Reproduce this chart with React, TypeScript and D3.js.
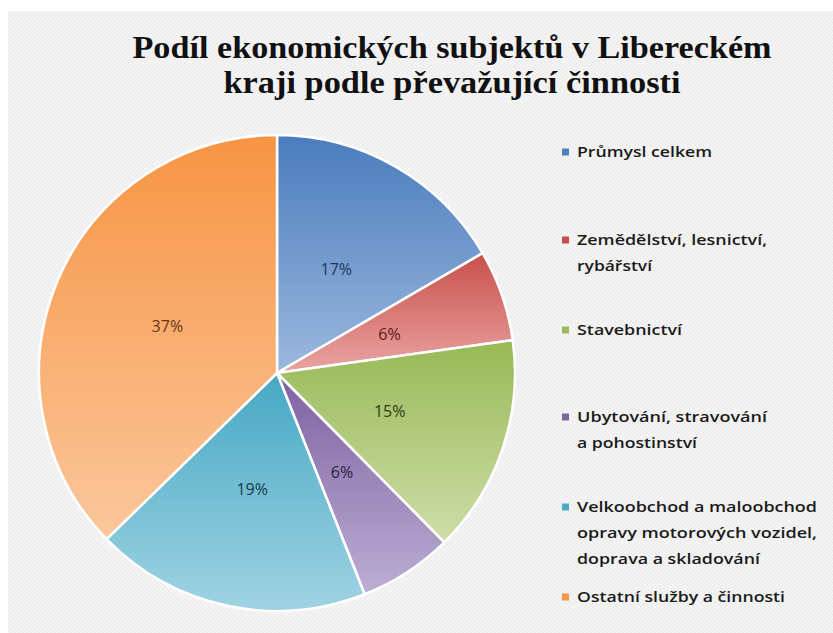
import React from "react";
import * as d3 from "d3";

const titleLines = ["Podíl ekonomických subjektů v Libereckém", "kraji podle převažující činnosti"];
const categories = [
  "Průmysl celkem",
  "Zemědělství, lesnictví, rybářství",
  "Stavebnictví",
  "Ubytování, stravování a pohostinství",
  "Velkoobchod a maloobchod opravy motorových vozidel, doprava a skladování",
  "Ostatní služby a činnosti",
];
const legendLines = [
  ["Průmysl celkem"],
  ["Zemědělství, lesnictví,", "rybářství"],
  ["Stavebnictví"],
  ["Ubytování, stravování", "a pohostinství"],
  ["Velkoobchod a maloobchod", "opravy motorových vozidel,", "doprava a skladování"],
  ["Ostatní služby a činnosti"],
];
const values = [16.6, 6.2, 14.8, 6.4, 18.7, 37.3];
const topColors = ["#4a7cbd", "#c8504b", "#97b955", "#7e61a1", "#45a8c4", "#f79443"];
const bottomColors = ["#9cb8de", "#eaa4a3", "#cfdda9", "#bcaed4", "#a0d3e3", "#fbc79c"];
const labelColors = ["#1d3561", "#5c1c1a", "#2f3d14", "#2e2143", "#163b49", "#6a3410"];
const legendColors = ["#4f81bd", "#c0504d", "#9bbb59", "#8064a2", "#4bacc6", "#f79646"];

const W = 833;
const H = 633;
const cx = 277;
const cy = 373;
const R = 238;

const legendTop = [152, 240, 330, 417, 507, 597];
const legendWidths = [
  [135],
  [190, 75],
  [105],
  [190, 120],
  [240, 240, 183],
  [208],
];

export default function App() {
  const pie = d3.pie<number>().sort(null).value((d) => d)(values);
  const arc = d3.arc<d3.PieArcDatum<number>>().innerRadius(0).outerRadius(R);
  const total = d3.sum(values);
  const fmt = (v: number) => `${Math.round((v / total) * 100)}%`;

  return (
    <svg
      width={W}
      height={H}
      style={{ position: "absolute", left: 0, top: 0, display: "block" }}
    >
      <defs>
        <pattern id="tex" width="4" height="4" patternUnits="userSpaceOnUse">
          <rect width="4" height="4" fill="#eeeeee" />
          <rect x="0" y="0" width="2" height="2" fill="#f4f4f4" />
          <rect x="2" y="2" width="2" height="2" fill="#f4f4f4" />
        </pattern>
        {categories.map((c, i) => (
          <linearGradient key={c} id={`g${i}`} x1="0" y1="0" x2="0" y2="1">
            <stop offset="0%" stopColor={topColors[i]} />
            <stop offset="100%" stopColor={bottomColors[i]} />
          </linearGradient>
        ))}
      </defs>
      <rect x={0} y={0} width={W} height={H} fill="#ffffff" />
      <rect x={8} y={11} width={W - 8} height={H - 11} fill="url(#tex)" />

      <g fontFamily="'Liberation Serif', 'DejaVu Serif', serif" fontWeight="bold" fill="#111">
        <text x={452} y={58} fontSize={32} textAnchor="middle" textLength={639} lengthAdjust="spacingAndGlyphs">
          {titleLines[0]}
        </text>
        <text x={452} y={93} fontSize={32} textAnchor="middle" textLength={457} lengthAdjust="spacingAndGlyphs">
          {titleLines[1]}
        </text>
      </g>

      <g transform={`translate(${cx},${cy})`}>
        {pie.map((p, i) => (
          <path key={i} d={arc(p) || ""} fill={`url(#g${i})`} stroke="#ffffff" strokeWidth={2.5} strokeLinejoin="round" />
        ))}
        {pie.map((p, i) => {
          const [x, y] = arc.centroid(p);
          return (
            <text
              key={`l${i}`}
              x={x}
              y={y}
              dy="0.35em"
              textAnchor="middle"
              fontFamily="'Open Sans', 'Liberation Sans', sans-serif"
              fontSize={16}
              fill={labelColors[i]}
            >
              {fmt(values[i])}
            </text>
          );
        })}
      </g>

      <g fontFamily="'Open Sans', 'Liberation Sans', sans-serif" fontWeight={600} fontSize={15} fill="#1a1a1a">
        {legendLines.map((lines, i) => (
          <g key={i}>
            <rect x={562} y={legendTop[i] - 3.5} width={7} height={7} fill={legendColors[i]} />
            {lines.map((ln, j) => (
              <text
                key={j}
                x={577}
                y={legendTop[i] + j * 26}
                dy="0.35em"
                textLength={legendWidths[i][j]}
                lengthAdjust="spacingAndGlyphs"
              >
                {ln}
              </text>
            ))}
          </g>
        ))}
      </g>
    </svg>
  );
}
